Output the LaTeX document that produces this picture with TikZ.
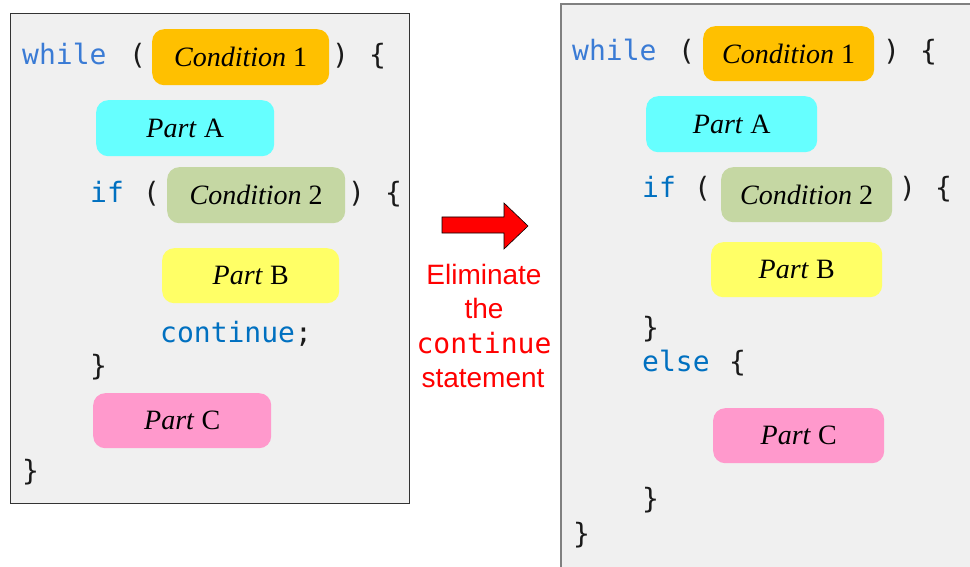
\documentclass[tikz,border=0pt]{standalone}
\usepackage{fontspec}
\setmainfont{Liberation Serif}
\setsansfont{Liberation Sans}
\setmonofont{DejaVu Sans Mono}
\definecolor{panelgray}{HTML}{F0F0F0}
\definecolor{condone}{HTML}{FFC000}
\definecolor{partacol}{HTML}{66FFFF}
\definecolor{condtwo}{HTML}{C5D7A3}
\definecolor{partbcol}{HTML}{FFFF66}
\definecolor{partccol}{HTML}{FF99CC}
\definecolor{kwwhile}{HTML}{3A7BD5}
\definecolor{kwblue}{HTML}{0070C0}
\definecolor{codeblack}{HTML}{1A1A1A}
\begin{document}
\begin{tikzpicture}[x=1pt,y=-1pt,
  panel/.style={fill=panelgray},
  code/.style={anchor=base west, inner sep=0pt, font=\fontsize{28}{32}\selectfont\ttfamily, text=codeblack},
  kwa/.style={code, text=kwwhile},
  kw/.style={code, text=kwblue},
  blk/.style={rounded corners=12pt, anchor=north west, inner sep=0pt, font=\fontsize{28}{32}\selectfont, text=black},
  redtxt/.style={anchor=base, inner sep=0pt, text=red, font=\fontsize{28}{32}\selectfont\sffamily},
  redcode/.style={anchor=base, inner sep=0pt, text=red, font=\fontsize{28}{32}\selectfont\ttfamily}
]
\useasboundingbox (0,0) rectangle (970,567);
\fill[white] (0,0) rectangle (970,567);

% ---------- left panel ----------
\draw[panel, draw=black!80, line width=0.8pt] (10,13) rectangle (409,503);
\node[kwa] (lwhile) at (22,65) {while};
\node[code] (lpo) at (129,65) {(};
\node[blk, fill=condone, minimum width=177pt, minimum height=56pt] (lcond1) at (152,29) {\textit{Condition} 1};
\node[code] (lpc) at (332,65) {)};
\node[code] (lob) at (369,65) {\{};
\node[blk, fill=partacol, minimum width=178pt, minimum height=56pt] (lparta) at (96,100) {\textit{Part} A};
\node[kw] (lif) at (90,203) {if};
\node[code] (lpo2) at (143,203) {(};
\node[blk, fill=condtwo, minimum width=178pt, minimum height=56pt] (lcond2) at (167,167) {\textit{Condition} 2};
\node[code] (lpc2) at (348,203) {)};
\node[code] (lob2) at (385,203) {\{};
\node[blk, fill=partbcol, minimum width=177pt, minimum height=55pt] (lpartb) at (162,248) {\textit{Part} B};
\node[code] (lcont) at (160,342) {\textcolor{kwblue}{continue};};
\node[code] (lcb) at (90,375) {\}};
\node[blk, fill=partccol, minimum width=178pt, minimum height=55pt] (lpartc) at (93,393) {\textit{Part} C};
\node[code] (lcbend) at (22,480) {\}};

% ---------- arrow and caption ----------
\draw[fill=red, draw=black, line width=0.6pt, line join=miter]
  (442,217) -- (504,217) -- (504,203) -- (528,226) -- (504,249) -- (504,233) -- (442,233) -- cycle;
\node[redtxt] (elim1) at (484,284) {Eliminate};
\node[redtxt] (elim2) at (484,318) {the};
\node[redcode] (elim3) at (484,353) {continue};
\node[redtxt] (elim4) at (483,387) {statement};

% ---------- right panel ----------
\draw[panel, draw=black!50, line width=1.5pt] (561,4) rectangle (985,585);
\node[kwa] (rwhile) at (572,61) {while};
\node[code] (rpo) at (678,61) {(};
\node[blk, fill=condone, minimum width=171pt, minimum height=55pt] (rcond1) at (703,26) {\textit{Condition} 1};
\node[code] (rpc) at (883,61) {)};
\node[code] (rob) at (920,61) {\{};
\node[blk, fill=partacol, minimum width=171pt, minimum height=56pt] (rparta) at (646,96) {\textit{Part} A};
\node[kw] (rif) at (642,197) {if};
\node[code] (rpo2) at (694,197) {(};
\node[blk, fill=condtwo, minimum width=171pt, minimum height=55pt] (rcond2) at (721,167) {\textit{Condition} 2};
\node[code] (rpc2) at (899,197) {)};
\node[code] (rob2) at (935,197) {\{};
\node[blk, fill=partbcol, minimum width=171pt, minimum height=55pt] (rpartb) at (711,242) {\textit{Part} B};
\node[code] (rcb) at (642,337) {\}};
\node[kw] (relse) at (642,371) {else};
\node[code] (rob3) at (729,371) {\{};
\node[blk, fill=partccol, minimum width=171pt, minimum height=55pt] (rpartc) at (713,408) {\textit{Part} C};
\node[code] (rcb2) at (642,508) {\}};
\node[code] (rcbend) at (573,543) {\}};
\end{tikzpicture}
\end{document}
